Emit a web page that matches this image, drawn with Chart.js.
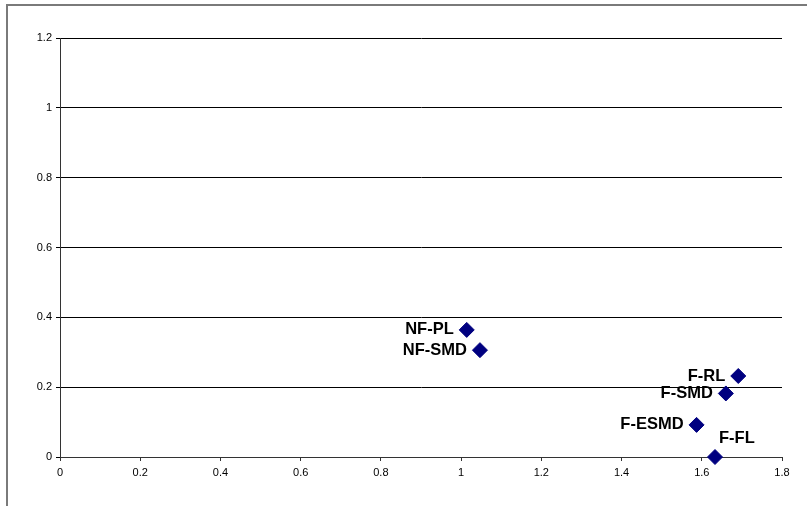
<!DOCTYPE html>
<html>
<head>
<meta charset="utf-8">
<script src="https://cdn.jsdelivr.net/npm/chart.js@4/dist/chart.umd.min.js"></script>
<style>
  html, body { margin: 0; padding: 0; background: #fff; }
  #wrap { width: 807px; height: 506px; position: relative; }
</style>
</head>
<body>
<div id="wrap"><canvas id="scatter_chart" width="807" height="506"></canvas></div>
<script>
// point names and coordinates
const pointNames = ["NF-PL", "NF-SMD", "F-RL", "F-SMD", "F-ESMD", "F-FL"]
const xValues = [1.014, 1.047, 1.691, 1.660, 1.587, 1.633]
const yValues = [0.364, 0.306, 0.232, 0.182, 0.092, 0.0]

const xTicks = [0, 0.2, 0.4, 0.6, 0.8, 1, 1.2, 1.4, 1.6, 1.8]
const yTicks = [0, 0.2, 0.4, 0.6, 0.8, 1, 1.2]

let points = []
for (let i = 0; i < pointNames.length; i++) {
  points.push({ x: xValues[i], y: yValues[i] })
}

// grey frame along top and left edge of the picture
const framePlugin = {
  id: "frame",
  beforeDraw(chart) {
    const ctx = chart.ctx
    ctx.save()
    ctx.fillStyle = "#fff"
    ctx.fillRect(0, 0, chart.width, chart.height)
    ctx.strokeStyle = "#7a7a7a"
    ctx.lineWidth = 2
    ctx.beginPath()
    ctx.moveTo(7, chart.height)
    ctx.lineTo(7, 5)
    ctx.lineTo(chart.width, 5)
    ctx.stroke()
    ctx.restore()
  }
}

// bold labels next to each diamond
const labelPlugin = {
  id: "pointLabels",
  afterDatasetsDraw(chart) {
    const ctx = chart.ctx
    const meta = chart.getDatasetMeta(0)
    ctx.save()
    ctx.font = "bold 16.5px 'Liberation Sans', Arial, sans-serif"
    ctx.fillStyle = "#000"
    ctx.textBaseline = "middle"
    meta.data.forEach((el, i) => {
      const name = pointNames[i]
      if (name === "F-FL") {
        ctx.textAlign = "left"
        ctx.fillText(name, el.x + 4, el.y - 19)
      } else {
        ctx.textAlign = "right"
        ctx.fillText(name, el.x - 13, el.y)
      }
    })
    ctx.restore()
  }
}

const tickFont = { family: "'Liberation Sans', Arial, sans-serif", size: 11 }

new Chart("scatter_chart", {
  type: "scatter",
  data: {
    datasets: [{
      data: points,
      pointStyle: "rectRot",
      pointRadius: 7.5,
      pointHoverRadius: 7.5,
      backgroundColor: "#000080",
      borderColor: "#000080",
      borderWidth: 1,
      clip: false
    }]
  },
  options: {
    responsive: false,
    animation: false,
    events: [],
    layout: { padding: { top: 38, right: 25, bottom: 0, left: 0 } },
    plugins: {
      legend: { display: false },
      tooltip: { enabled: false }
    },
    scales: {
      x: {
        type: "linear",
        min: 0,
        max: 1.8,
        afterFit: (s) => { s.height = 49 },
        afterBuildTicks: (s) => { s.ticks = xTicks.map(v => ({ value: v })) },
        grid: { drawOnChartArea: false, drawTicks: true, tickLength: 4, color: "#333" },
        border: { color: "#333", width: 1 },
        ticks: {
          font: tickFont,
          color: "#000",
          padding: 5,
          maxRotation: 0,
          callback: (v) => String(v)
        }
      },
      y: {
        type: "linear",
        min: 0,
        max: 1.2,
        afterFit: (s) => { s.width = 60 },
        afterBuildTicks: (s) => { s.ticks = yTicks.map(v => ({ value: v })) },
        grid: { drawOnChartArea: true, drawTicks: true, tickLength: 4, color: "#000" },
        border: { color: "#333", width: 1 },
        ticks: {
          font: tickFont,
          color: "#000",
          padding: 4,
          callback: (v) => String(v)
        }
      }
    }
  },
  plugins: [framePlugin, labelPlugin]
})
</script>
</body>
</html>
